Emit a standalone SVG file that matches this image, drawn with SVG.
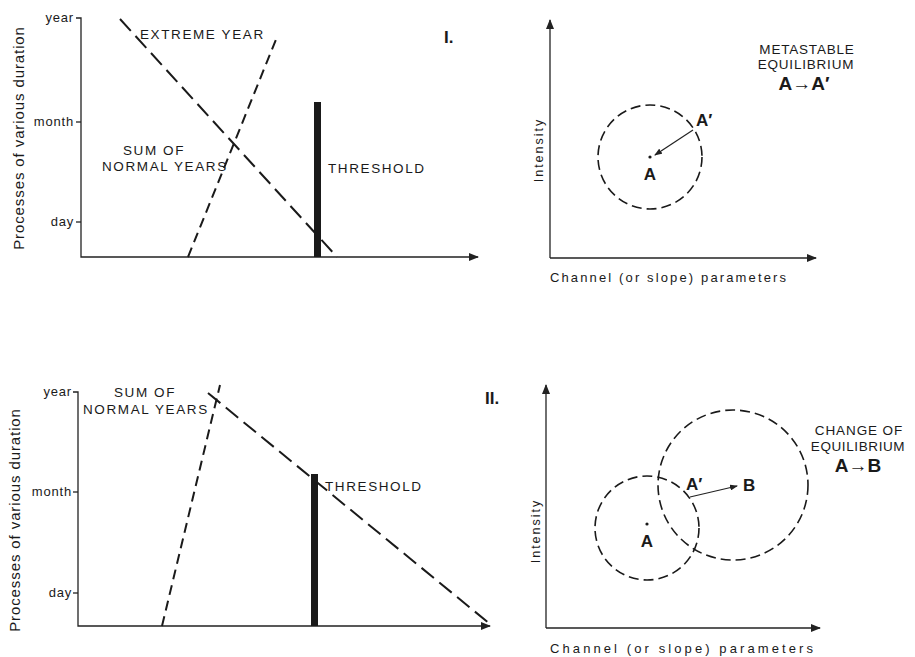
<svg xmlns="http://www.w3.org/2000/svg" width="915" height="657" viewBox="0 0 915 657">
<defs>
<style>
text{font-family:"Liberation Sans",Arial,sans-serif;fill:#1a1a1a}
.lbl{font-size:13.5px;letter-spacing:1.6px}
.tk{font-size:13px;letter-spacing:0.8px}
.big{font-size:17px;font-weight:bold}
.ylab{font-size:15px;letter-spacing:0.9px}
.int{font-size:12.5px;letter-spacing:2px}
.ax{stroke:#222;stroke-width:1.3;fill:none}
.ext{stroke:#1a1a1a;stroke-width:2;stroke-dasharray:16 7;fill:none}
.sum{stroke:#1a1a1a;stroke-width:2;stroke-dasharray:10 6;fill:none}
.circ{stroke:#1a1a1a;stroke-width:1.6;stroke-dasharray:10 5;fill:none}
.thr{fill:#1a1a1a}
.arr{stroke:#222;stroke-width:1.2;fill:none}
</style>
<marker id="ah" markerWidth="10" markerHeight="8" refX="9" refY="4" orient="auto" markerUnits="userSpaceOnUse">
<path d="M0,0 L10,4 L0,8 Z" fill="#222"/>
</marker>
<marker id="sh" markerWidth="8" markerHeight="6" refX="7" refY="3" orient="auto" markerUnits="userSpaceOnUse">
<path d="M0,0 L8,3 L0,6 Z" fill="#222"/>
</marker>
</defs>
<rect width="915" height="657" fill="#fff"/>

<!-- Panel I left -->
<g id="panel1-left">
<path class="ax" d="M76,18 H81 V257 H478" marker-end="url(#ah)"/>
<line class="ax" x1="76" y1="122" x2="81" y2="122"/>
<line class="ax" x1="76" y1="222" x2="81" y2="222"/>
<text class="tk" x="74" y="22" text-anchor="end">year</text>
<text class="tk" x="74" y="126" text-anchor="end">month</text>
<text class="tk" x="74" y="226" text-anchor="end">day</text>
<text class="ylab" transform="translate(24,138) rotate(-90)" text-anchor="middle">Processes of various duration</text>
<line class="ext" x1="120" y1="19" x2="337" y2="257"/>
<line class="sum" x1="188" y1="257" x2="277" y2="37"/>
<rect class="thr" x="314" y="102" width="7" height="155"/>
<text class="lbl" x="140" y="39">EXTREME YEAR</text>
<text class="lbl" x="154" y="155" text-anchor="middle">SUM OF</text>
<text class="lbl" x="102" y="171">NORMAL YEARS</text>
<text class="lbl" x="328" y="173">THRESHOLD</text>
<text class="big" x="444" y="43">I.</text>
</g>

<!-- Panel I right -->
<g id="panel1-right">
<path class="ax" d="M550,258 H816" marker-end="url(#ah)"/>
<line class="ax" x1="550" y1="258" x2="550" y2="20" marker-end="url(#ah)"/>
<circle class="circ" cx="650" cy="157" r="52"/>
<circle cx="650" cy="157" r="1.6" fill="#1a1a1a"/>
<line class="arr" x1="693" y1="130" x2="655" y2="155" marker-end="url(#sh)"/>
<text class="big" x="650" y="180" text-anchor="middle">A</text>
<text class="big" x="696" y="126">A′</text>
<text class="int" transform="translate(543,150) rotate(-90)" text-anchor="middle">Intensity</text>
<text x="550" y="282" style="font-size:13px;letter-spacing:1px" textLength="237" lengthAdjust="spacing">Channel  (or slope)  parameters</text>
<text x="807" y="54" text-anchor="middle" style="font-size:13.5px;letter-spacing:0.8px">METASTABLE</text>
<text x="806" y="69" text-anchor="middle" style="font-size:13.5px;letter-spacing:0.8px">EQUILIBRIUM</text>
<text x="804" y="90" text-anchor="middle" style="font-size:19px;font-weight:bold">A→A′</text>
</g>

<!-- Panel II left -->
<g id="panel2-left">
<path class="ax" d="M73,392 H78 V626 H490" marker-end="url(#ah)"/>
<line class="ax" x1="73" y1="492" x2="78" y2="492"/>
<line class="ax" x1="73" y1="593" x2="78" y2="593"/>
<text class="tk" x="72" y="396" text-anchor="end">year</text>
<text class="tk" x="72" y="496" text-anchor="end">month</text>
<text class="tk" x="72" y="597" text-anchor="end">day</text>
<text class="ylab" transform="translate(20,520) rotate(-90)" text-anchor="middle">Processes of various duration</text>
<line class="sum" x1="162" y1="626" x2="220" y2="385"/>
<line class="ext" x1="208" y1="393" x2="490" y2="624"/>
<rect class="thr" x="311" y="474" width="7" height="152"/>
<text class="lbl" x="145" y="397" text-anchor="middle">SUM OF</text>
<text class="lbl" x="83" y="414">NORMAL YEARS</text>
<text class="lbl" x="325" y="491">THRESHOLD</text>
<text class="big" x="485" y="404">II.</text>
</g>

<!-- Panel II right -->
<g id="panel2-right">
<path class="ax" d="M546,628 H820" marker-end="url(#ah)"/>
<line class="ax" x1="546" y1="628" x2="546" y2="385" marker-end="url(#ah)"/>
<circle class="circ" cx="647" cy="528" r="52"/>
<circle class="circ" cx="733" cy="485" r="75"/>
<circle cx="647" cy="524" r="1.6" fill="#1a1a1a"/>
<line class="arr" x1="690" y1="497" x2="737" y2="486" marker-end="url(#sh)"/>
<text class="big" x="647" y="547" text-anchor="middle">A</text>
<text class="big" x="686" y="490">A′</text>
<text class="big" x="743" y="491">B</text>
<text class="int" transform="translate(540,531) rotate(-90)" text-anchor="middle">Intensity</text>
<text x="550" y="653" style="font-size:13px;letter-spacing:2px" textLength="265" lengthAdjust="spacing">Channel (or  slope)  parameters</text>
<text x="859" y="435" text-anchor="middle" style="font-size:13.5px;letter-spacing:0.9px">CHANGE OF</text>
<text x="858" y="451" text-anchor="middle" style="font-size:13.5px;letter-spacing:0.6px">EQUILIBRIUM</text>
<text x="858" y="472" text-anchor="middle" style="font-size:19px;font-weight:bold">A→B</text>
</g>
</svg>
